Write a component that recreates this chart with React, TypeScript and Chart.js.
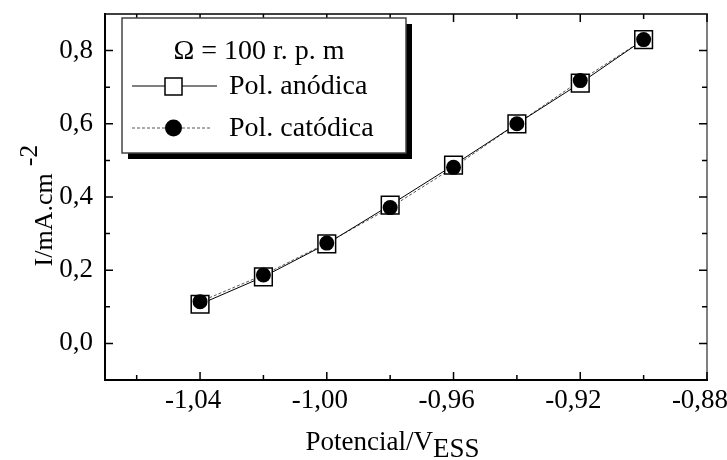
import React, { useEffect, useRef } from "react";
import { Chart, registerables } from "chart.js";

Chart.register(...registerables);

const potentials = [-1.04, -1.02, -1.0, -0.98, -0.96, -0.94, -0.92, -0.9];
const anodica = [0.107, 0.182, 0.272, 0.378, 0.487, 0.6, 0.711, 0.83];
const catodica = [0.114, 0.187, 0.274, 0.371, 0.481, 0.6, 0.718, 0.83];

const xMajorTicks = [-1.04, -1.0, -0.96, -0.92, -0.88];
const xTickLabels = ["-1,04", "-1,00", "-0,96", "-0,92", "-0,88"];
const xMinorTicks = [-1.06, -1.02, -0.98, -0.94, -0.9];
const yMajorTicks = [0, 0.2, 0.4, 0.6, 0.8];
const yTickLabels = ["0,0", "0,2", "0,4", "0,6", "0,8"];
const yMinorTicks = [0.1, 0.3, 0.5, 0.7];

const legendTitle = "Ω = 100 r. p. m";
const labelAnodica = "Pol. anódica";
const labelCatodica = "Pol. catódica";
const xTitleMain = "Potencial/V";
const xTitleSub = "ESS";
const yTitleMain = "I/mA.cm";
const yTitleSup = "-2";

const FONT = "'Liberation Serif', 'Times New Roman', serif";

const decorPlugin = {
  id: "decor",
  afterDraw(chart: any) {
    const ctx = chart.ctx as CanvasRenderingContext2D;
    const area = chart.chartArea;
    const xs = chart.scales.x;
    const ys = chart.scales.y;
    ctx.save();

    // frame
    ctx.lineCap = "square";
    ctx.strokeStyle = "#000";
    ctx.lineWidth = 1.5;
    ctx.beginPath();
    ctx.moveTo(area.left, area.top);
    ctx.lineTo(area.right, area.top);
    ctx.stroke();
    ctx.strokeStyle = "#555";
    ctx.beginPath();
    ctx.moveTo(area.right, area.top);
    ctx.lineTo(area.right, area.bottom);
    ctx.stroke();
    ctx.strokeStyle = "#000";
    ctx.lineWidth = 2;
    ctx.beginPath();
    ctx.moveTo(area.left, area.top);
    ctx.lineTo(area.left, area.bottom);
    ctx.lineTo(area.right, area.bottom);
    ctx.stroke();

    // inward ticks
    ctx.lineWidth = 1.5;
    ctx.lineCap = "butt";
    ctx.strokeStyle = "#000";
    const xt = (v: number, len: number) => {
      const px = xs.getPixelForValue(v);
      ctx.beginPath();
      ctx.moveTo(px, area.bottom);
      ctx.lineTo(px, area.bottom - len);
      ctx.moveTo(px, area.top);
      ctx.lineTo(px, area.top + len);
      ctx.stroke();
    };
    const yt = (v: number, len: number) => {
      const py = ys.getPixelForValue(v);
      ctx.beginPath();
      ctx.moveTo(area.left, py);
      ctx.lineTo(area.left + len, py);
      ctx.moveTo(area.right, py);
      ctx.lineTo(area.right - len, py);
      ctx.stroke();
    };
    xMajorTicks.forEach((v) => xt(v, 8));
    xMinorTicks.forEach((v) => xt(v, 5));
    yMajorTicks.forEach((v) => yt(v, 8));
    yMinorTicks.forEach((v) => yt(v, 5));

    // x title
    ctx.fillStyle = "#000";
    ctx.font = `27px ${FONT}`;
    ctx.textBaseline = "alphabetic";
    ctx.textAlign = "left";
    const w1 = ctx.measureText(xTitleMain).width;
    const w2 = ctx.measureText(xTitleSub).width;
    const xStart = 392.5 - (w1 + w2) / 2;
    ctx.fillText(xTitleMain, xStart, 450);
    ctx.fillText(xTitleSub, xStart + w1, 457);

    // y title
    ctx.save();
    ctx.translate(51.5, 266.5);
    ctx.rotate(-Math.PI / 2);
    ctx.font = `26px ${FONT}`;
    const wy = ctx.measureText(yTitleMain).width;
    ctx.fillText(yTitleMain, 0, 0);
    ctx.fillText(yTitleSup, wy + 7, -15);
    ctx.restore();

    // legend box with shadow
    const bx = 122, by = 18, bw = 284, bh = 135;
    ctx.fillStyle = "#000";
    ctx.fillRect(bx + 6, by + 6, bw, bh);
    ctx.fillStyle = "#fff";
    ctx.fillRect(bx, by, bw, bh);
    ctx.strokeStyle = "#444";
    ctx.lineWidth = 1.5;
    ctx.strokeRect(bx, by, bw, bh);

    ctx.fillStyle = "#000";
    ctx.font = `28px ${FONT}`;
    ctx.textBaseline = "middle";
    ctx.textAlign = "center";
    ctx.fillText(legendTitle, 259, 52);
    ctx.textAlign = "left";
    ctx.fillText(labelAnodica, 229, 87);
    ctx.fillText(labelCatodica, 229, 129);

    // anodic sample
    ctx.strokeStyle = "#000";
    ctx.lineWidth = 1;
    ctx.setLineDash([]);
    ctx.beginPath();
    ctx.moveTo(132, 86);
    ctx.lineTo(217, 86);
    ctx.stroke();
    ctx.fillStyle = "#fff";
    ctx.fillRect(165, 78, 17, 17);
    ctx.lineWidth = 1.5;
    ctx.strokeRect(165, 78, 17, 17);

    // catodic sample
    ctx.strokeStyle = "#555";
    ctx.lineWidth = 1;
    ctx.setLineDash([3, 2]);
    ctx.beginPath();
    ctx.moveTo(132, 128);
    ctx.lineTo(210, 128);
    ctx.stroke();
    ctx.setLineDash([]);
    ctx.fillStyle = "#000";
    ctx.beginPath();
    ctx.arc(173.5, 128, 8.5, 0, Math.PI * 2);
    ctx.fill();

    ctx.restore();
  },
};

export default function App() {
  const canvasRef = useRef<HTMLCanvasElement | null>(null);

  useEffect(() => {
    const canvas = canvasRef.current;
    if (!canvas) return;
    const tickFont = { family: FONT, size: 27 };
    const anodicPts = potentials.map((x, i) => ({ x, y: anodica[i] }));
    const catodicPts = potentials.map((x, i) => ({ x, y: catodica[i] }));
    const chart = new Chart(canvas, {
      type: "line",
      data: {
        datasets: [
          {
            label: labelCatodica + " line",
            data: catodicPts,
            borderColor: "#555",
            borderWidth: 1,
            borderDash: [3, 2],
            pointRadius: 0,
            fill: false,
            order: 2,
          },
          {
            label: labelAnodica,
            data: anodicPts,
            borderColor: "#000",
            borderWidth: 1,
            pointStyle: "rect",
            pointRadius: 12.5,
            pointBackgroundColor: "#fff",
            pointBorderColor: "#000",
            pointBorderWidth: 1.5,
            fill: false,
            order: 1,
          },
          {
            label: labelCatodica,
            data: catodicPts,
            showLine: false,
            pointStyle: "circle",
            pointRadius: 7.5,
            pointBackgroundColor: "#000",
            pointBorderColor: "#000",
            pointBorderWidth: 0,
            order: 0,
          },
        ],
      } as any,
      options: {
        responsive: false,
        animation: false,
        devicePixelRatio: 1,
        layout: { padding: { top: 11, right: 20, left: 0, bottom: 0 } },
        plugins: {
          legend: { display: false },
          tooltip: { enabled: false },
          title: { display: false },
        },
        scales: {
          x: {
            type: "linear",
            min: -1.07,
            max: -0.88,
            afterBuildTicks: (s: any) => {
              s.ticks = xMajorTicks.map((v) => ({ value: v }));
            },
            afterFit: (s: any) => {
              s.height = 80;
              s.paddingLeft = 0;
              s.paddingRight = 0;
            },
            ticks: {
              callback: (v: any) => {
                const i = xMajorTicks.findIndex((t) => Math.abs(t - Number(v)) < 1e-6);
                return i >= 0 ? xTickLabels[i] : "";
              },
              font: tickFont,
              color: "#000",
              padding: 5,
              labelOffset: -7,
              maxRotation: 0,
              autoSkip: false,
            },
            grid: { display: false, drawTicks: false },
            border: { display: false },
          },
          y: {
            type: "linear",
            min: -0.1,
            max: 0.9,
            afterBuildTicks: (s: any) => {
              s.ticks = yMajorTicks.map((v) => ({ value: v }));
            },
            afterFit: (s: any) => {
              s.width = 105;
              s.paddingTop = 0;
              s.paddingBottom = 0;
            },
            ticks: {
              callback: (v: any) => {
                const i = yMajorTicks.findIndex((t) => Math.abs(t - Number(v)) < 1e-6);
                return i >= 0 ? yTickLabels[i] : "";
              },
              font: tickFont,
              color: "#000",
              padding: 12,
              autoSkip: false,
            },
            grid: { display: false, drawTicks: false },
            border: { display: false },
          },
        },
      } as any,
      plugins: [decorPlugin],
    });
    return () => chart.destroy();
  }, []);

  return (
    <div style={{ position: "fixed", left: 0, top: 0, width: 727, height: 460, background: "#fff" }}>
      <canvas ref={canvasRef} width={727} height={460} />
    </div>
  );
}
